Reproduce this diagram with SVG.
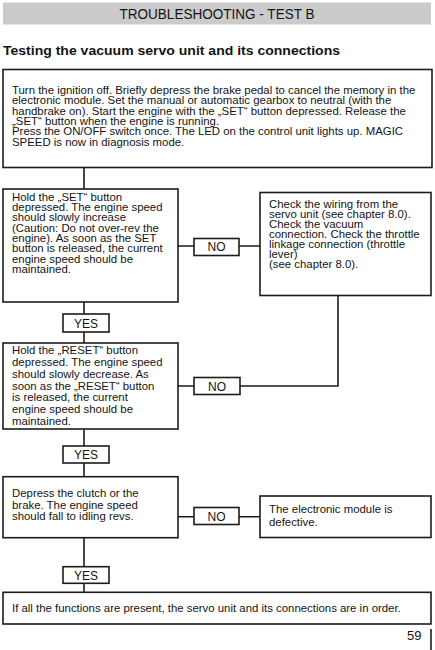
<svg xmlns="http://www.w3.org/2000/svg" width="435" height="650" viewBox="0 0 435 650">
<style>
text{font-family:"Liberation Sans",Arial,sans-serif;fill:#141414}
.t{font-size:11.4px}
.lbl{font-size:12px;text-anchor:middle}
.box{fill:#fff;stroke:#1c1c1c;stroke-width:1.6}
.c{stroke:#1c1c1c;stroke-width:1.6;fill:none}
</style>
<rect width="435" height="650" fill="#fff"/>
<g id="header">
<rect x="3" y="2.5" width="428" height="22" fill="#cbcbcb"/>
<text x="217" y="18.5" font-size="14" text-anchor="middle" textLength="195" lengthAdjust="spacingAndGlyphs">TROUBLESHOOTING - TEST B</text>
<text x="3" y="55" font-size="13" font-weight="bold" textLength="337" lengthAdjust="spacingAndGlyphs">Testing the vacuum servo unit and its connections</text>
</g>
<g id="connectors">
<path class="c" d="M84 167.5V189M84 302V314M84 332V343M84 429V446M84 463V476.7M84 537.7V566.7M84 583.3V592.3"/>
<path class="c" d="M178 246H194M239 246H260M178 386H194M240 386H338V295.5M178 516.7H194M239 516.7H260"/>
</g>
<g id="n1">
<rect class="box" x="3" y="69.5" width="429" height="98"/>
<text class="t" x="12">
<tspan x="12" y="94">Turn the ignition off. Briefly depress the brake pedal to cancel the memory in the</tspan>
<tspan x="12" y="104.3">electronic module. Set the manual or automatic gearbox  to neutral (with the</tspan>
<tspan x="12" y="114.7">handbrake on). Start the engine with the „SET“ button depressed. Release the</tspan>
<tspan x="12" y="125">„SET“ button when the engine is running.</tspan>
<tspan x="12" y="135.3">Press the ON/OFF switch once. The LED on the control unit lights up. MAGIC</tspan>
<tspan x="12" y="145.7">SPEED is now in diagnosis mode.</tspan>
</text>
</g>
<g id="n2">
<rect class="box" x="3" y="189" width="175" height="113"/>
<text class="t">
<tspan x="12" y="200.7">Hold the „SET“ button</tspan>
<tspan x="12" y="211">depressed. The engine speed</tspan>
<tspan x="12" y="221.3">should slowly increase</tspan>
<tspan x="12" y="231.7">(Caution: Do not over-rev the</tspan>
<tspan x="12" y="242">engine). As soon as the SET</tspan>
<tspan x="12" y="252.3">button is released, the current</tspan>
<tspan x="12" y="262.7">engine speed should be</tspan>
<tspan x="12" y="273">maintained.</tspan>
</text>
</g>
<g id="no1">
<rect class="box" x="194" y="238.5" width="45" height="17"/>
<text class="lbl" x="216.5" y="251">NO</text>
</g>
<g id="n3">
<rect class="box" x="260" y="192.5" width="171" height="103"/>
<text class="t">
<tspan x="269" y="208">Check the wiring from the</tspan>
<tspan x="269" y="218">servo unit (see chapter 8.0).</tspan>
<tspan x="269" y="228">Check the vacuum</tspan>
<tspan x="269" y="238">connection. Check the throttle</tspan>
<tspan x="269" y="248">linkage connection (throttle</tspan>
<tspan x="269" y="258">lever)</tspan>
<tspan x="269" y="268">(see chapter 8.0).</tspan>
</text>
</g>
<g id="yes1">
<rect class="box" x="63" y="314" width="46" height="18"/>
<text class="lbl" x="86" y="327.5">YES</text>
</g>
<g id="n4">
<rect class="box" x="3" y="343" width="175" height="86"/>
<text class="t">
<tspan x="12" y="354">Hold the „RESET“ button</tspan>
<tspan x="12" y="365.8">depressed. The engine speed</tspan>
<tspan x="12" y="377.7">should slowly decrease. As</tspan>
<tspan x="12" y="389.5">soon as the „RESET“ button</tspan>
<tspan x="12" y="401.3">is released, the current</tspan>
<tspan x="12" y="413.2">engine speed should be</tspan>
<tspan x="12" y="425">maintained.</tspan>
</text>
</g>
<g id="no2">
<rect class="box" x="194" y="377.5" width="46" height="17"/>
<text class="lbl" x="217" y="390.5">NO</text>
</g>
<g id="yes2">
<rect class="box" x="63" y="446" width="46" height="17"/>
<text class="lbl" x="86" y="459">YES</text>
</g>
<g id="n5">
<rect class="box" x="3" y="476.7" width="175" height="61"/>
<text class="t">
<tspan x="12" y="497.3">Depress the clutch or the</tspan>
<tspan x="12" y="508.7">brake. The engine speed</tspan>
<tspan x="12" y="520">should fall to idling revs.</tspan>
</text>
</g>
<g id="no3">
<rect class="box" x="194" y="507.5" width="45" height="17"/>
<text class="lbl" x="216.5" y="520.5">NO</text>
</g>
<g id="n6">
<rect class="box" x="260" y="496" width="171" height="41.5"/>
<text class="t">
<tspan x="269" y="513">The electronic module is</tspan>
<tspan x="269" y="525.5">defective.</tspan>
</text>
</g>
<g id="yes3">
<rect class="box" x="63" y="566.7" width="46" height="16.6"/>
<text class="lbl" x="86" y="579.5">YES</text>
</g>
<g id="n7">
<rect class="box" x="3" y="592.3" width="428" height="31.7"/>
<text class="t" x="12" y="611.7">If all the functions are present, the servo unit and its connections are in order.</text>
</g>
<g id="footer">
<text x="421.5" y="640" font-size="13" text-anchor="end">59</text>
<path class="c" d="M431 629V650"/>
</g>
</svg>
